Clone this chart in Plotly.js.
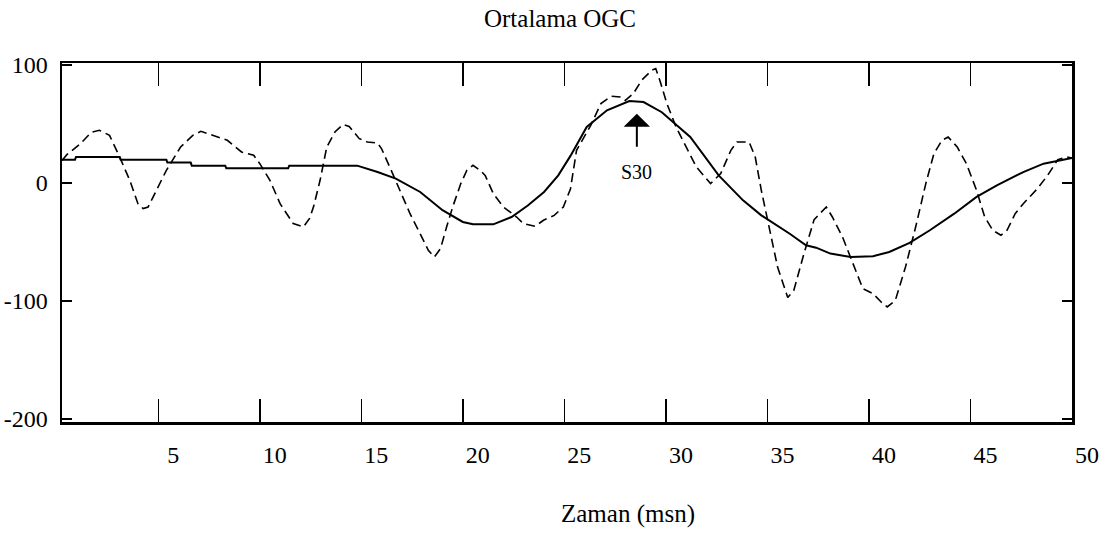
<!DOCTYPE html>
<html>
<head>
<meta charset="utf-8">
<script src="https://cdn.plot.ly/plotly-3.0.1.min.js"></script>
<style>html,body{margin:0;padding:0;background:#fff;}#chart{width:1115px;height:537px;}</style>
</head>
<body>
<div id="chart"></div>
<script>
// Solid curve (Ortalama)
var tSolid = [0.26,0.9,0.95,3.1,3.15,5.4,5.45,6.6,6.65,8.3,8.35,11.4,11.45,14.8,15.8,16.7,17.9,19.0,20.0,20.5,21.5,22.4,23.2,24.0,24.7,25.3,26.1,27.1,28.2,28.9,29.8,31.2,32.6,33.8,34.7,36.1,36.9,37.4,38.1,39.1,40.2,41.0,42.0,43.0,44.2,45.3,46.3,47.6,48.6,49.6,50];
var vSolid = [19.8,19.8,22,22,19.8,19.8,17.3,17.3,14.7,14.7,12.5,12.5,14.7,14.7,9.3,3.7,-7.6,-23,-33,-35,-35,-28.8,-19,-7.6,6.5,23,47.5,61.6,69.5,68.6,60,39,6.5,-14.7,-27.4,-43,-52.8,-54.8,-59.8,-62.7,-62,-58.4,-50.8,-40,-26,-11.8,-2,9.3,16.4,20,21.2];

// Dashed curve
var tDashed = [
  0.26,0.5,1.15,1.7,2.1,2.6,3.1,3.6,4.0,4.26,4.5,4.9,5.4,6.1,6.7,7.1,7.5,7.7,8.4,9.1,9.7,10.0,10.5,11.0,11.65,12.15,12.45,12.65,12.97,
  13.3,13.7,14.1,14.4,14.9,15.3,15.8,16.0,16.4,16.9,17.4,17.9,18.3,18.6,18.9,19.2,19.5,19.9,20.2,20.5,20.85,21.1,21.5,22.0,22.65,22.98,23.56,23.97,24.5,24.95,25.3,
  25.6,26.3,26.8,27.3,27.8,28.0,28.4,28.8,29.3,29.5,29.7,30.05,30.5,31.0,31.5,32.2,32.7,33.2,33.5,34.1,34.4,34.7,35.1,35.5,36.0,36.3,
  36.8,37.1,37.3,37.9,38.2,38.7,39.2,39.7,40.2,40.6,40.9,41.3,41.8,42.3,42.8,43.2,43.6,43.9,44.35,44.8,45.3,45.7,46.1,46.5,46.8,47.2,47.6,48.3,48.8,49.3,49.75,50
];
var vDashed = [
  19.2,24,33,43,44.7,40.4,22,2.3,-17.5,-21.7,-20.3,-6.2,10.8,30.5,40.4,43.8,41.3,40.4,36.2,26.3,23.5,16.4,2.3,-17.5,-34.4,-37.3,-30,-20,2.3,
  30.5,43.2,49.7,48,37.6,34.7,33.9,29,13.6,-6.2,-26,-43,-57,-62.7,-55.6,-37.3,-20.3,-0.5,10.8,15,10.8,6.5,-9,-20.3,-28.8,-34.4,-36.7,-31.6,-27.4,-20.3,-5,
  27.7,48.9,67.3,73.5,72.9,70,75.8,87,95.5,97,87,67.3,47.5,30.5,13.6,-0.5,8,27.7,34.7,34.7,22,-6.2,-37.3,-71.2,-97,-91,
  -59.8,-43,-31,-20.3,-28.8,-45.8,-68.3,-89.5,-93.7,-100.8,-105,-99.4,-71.2,-37.3,-0.5,24.9,36.2,39,30.5,16.4,-6.2,-28.8,-40,-44.3,-40,-26,-17.5,-4.7,6.5,19.8,22,21.2
];

var xTicks = [5,10,15,20,25,30,35,40,45,50];
var yTicks = [-200,-100,0,100];
var markerLabel = "S30";
var markerT = 28.57, markerTip = 58.8, markerTail = 29.4, markerLabelY = 9.3;

var serif = "Liberation Serif, Times New Roman, serif";

var traces = [
  {x: tDashed, y: vDashed, mode: "lines", line: {color: "#000", width: 1.6, dash: "9px,5px"}, hoverinfo: "skip"},
  {x: tSolid, y: vSolid, mode: "lines", line: {color: "#000", width: 2}, hoverinfo: "skip"}
];

var layout = {
  width: 1115, height: 537,
  margin: {l: 62, r: 43, t: 63, b: 115, pad: 0},
  paper_bgcolor: "#fff", plot_bgcolor: "#fff",
  showlegend: false,
  font: {family: serif, color: "#000"},
  title: {text: "Ortalama OGC", font: {family: serif, size: 25, color: "#000"},
          x: 560/1115, xanchor: "center", xref: "container", y: 1 - 18/537, yanchor: "middle", yref: "container"},
  xaxis: {
    range: [0.26, 50], tickvals: xTicks, ticktext: xTicks.map(String),
    ticks: "inside", ticklen: 23, tickwidth: 1.5, tickcolor: "#000",
    showline: true, linewidth: 2.5, linecolor: "#000", mirror: "ticks",
    showgrid: false, zeroline: false,
    ticklabelshift: 15, ticklabelstandoff: 10,
    tickfont: {family: serif, size: 24, color: "#000"}
  },
  yaxis: {
    range: [-202.5, 101.7], tickvals: yTicks, ticktext: yTicks.map(String),
    ticks: "inside", ticklen: 10, tickwidth: 1.5, tickcolor: "#000",
    showline: true, linewidth: 2.5, linecolor: "#000", mirror: "ticks",
    showgrid: false, zeroline: false,
    ticklabelstandoff: 7,
    tickfont: {family: serif, size: 24, color: "#000"}
  },
  annotations: [
    {x: markerT, y: markerTip, ax: markerT, ay: markerTail, axref: "x", ayref: "y", xref: "x", yref: "y",
     text: "", showarrow: true, arrowhead: 1, arrowsize: 2.2, arrowwidth: 2, arrowcolor: "#000", standoff: 0, startstandoff: 0},
    {x: markerT, y: markerLabelY, xref: "x", yref: "y", text: markerLabel, showarrow: false,
     font: {family: serif, size: 20, color: "#000"}, xanchor: "center", yanchor: "middle"},
    {x: 0, y: 0, xref: "paper", yref: "paper", text: "Zaman (msn)", showarrow: false,
     font: {family: serif, size: 25, color: "#000"}, xanchor: "center", yanchor: "middle"}
  ]
};
// axis title position: pixel centre (628, 514) converted to the plot area's paper coordinates
layout.annotations[2].x = (628 - 62) / (1115 - 62 - 43);
layout.annotations[2].y = (537 - 115 - 514) / (537 - 63 - 115);

Plotly.newPlot("chart", traces, layout, {staticPlot: true, displayModeBar: false});
</script>
</body>
</html>
